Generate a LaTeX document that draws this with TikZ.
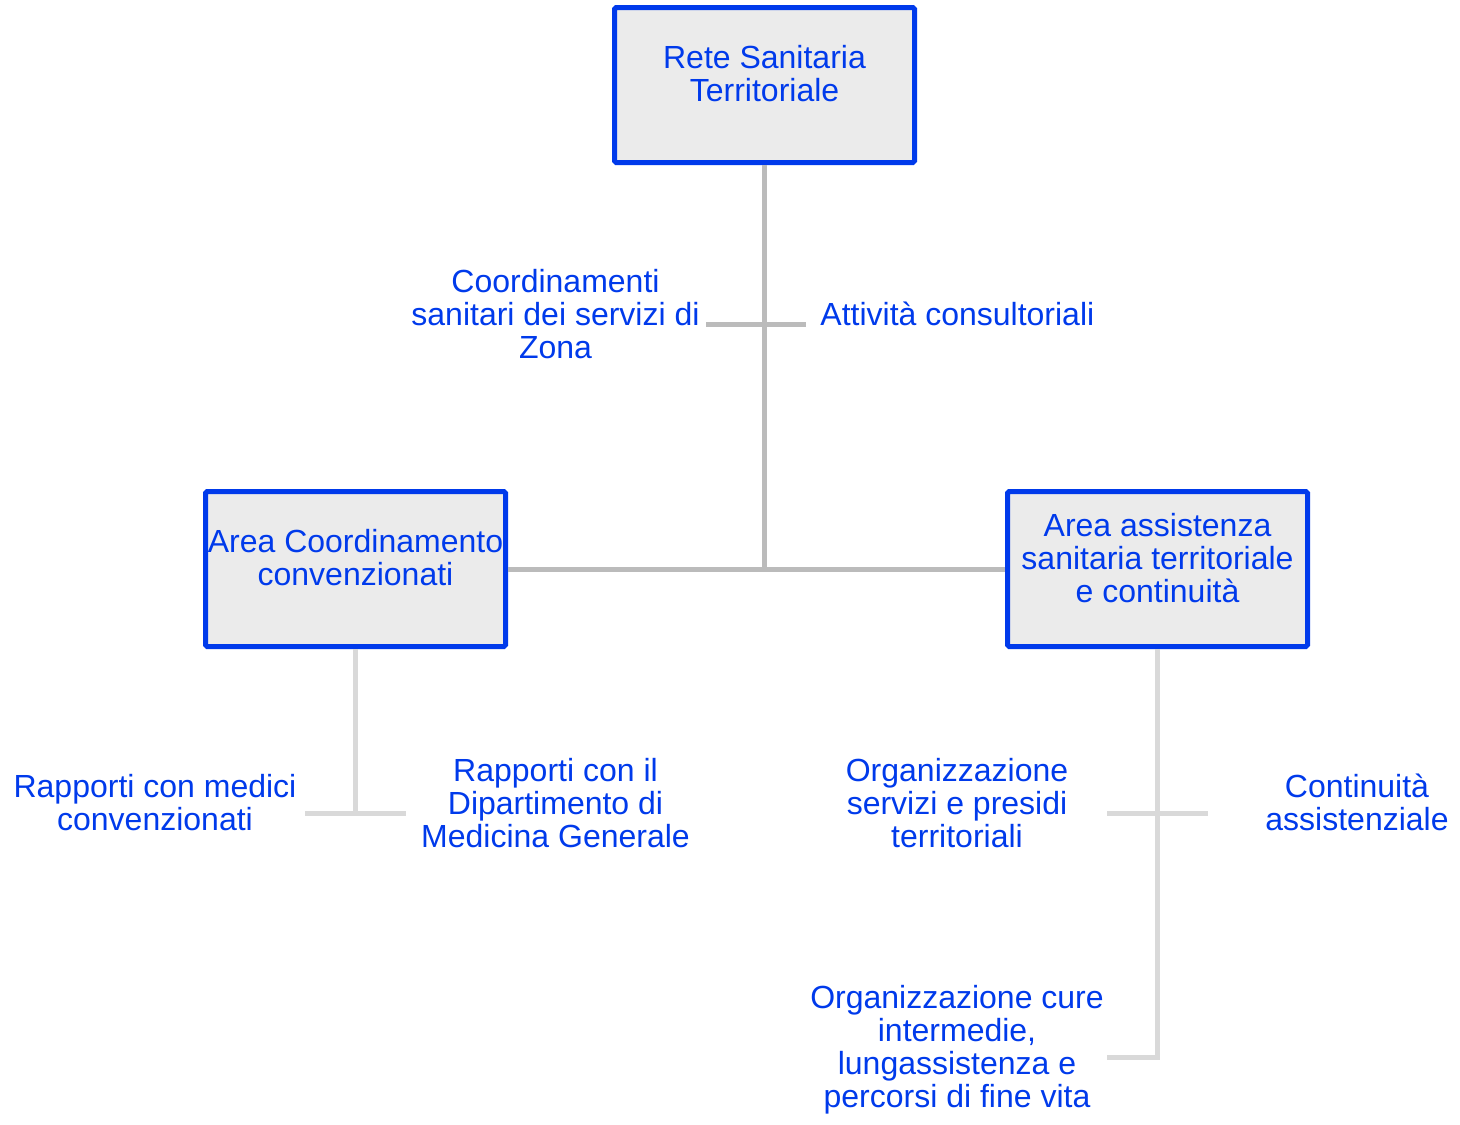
\documentclass[tikz,border=0pt]{standalone}
\usepackage{fontspec}
\setmainfont{Liberation Sans}
\definecolor{orgblue}{RGB}{0,58,235}
\definecolor{boxfill}{RGB}{235,235,235}
\definecolor{trunkgray}{RGB}{187,187,187}
\definecolor{leafgray}{RGB}{217,217,217}
\begin{document}
\begin{tikzpicture}[x=0.5pt,y=-0.5pt,
  orgbox/.style={draw=orgblue,fill=boxfill,line width=2.5pt,rounded corners=0.8pt,
    minimum width=150pt,minimum height=77.5pt,inner sep=0pt},
  boxtext/.style={text=orgblue,align=center,inner sep=0pt,
    font=\fontsize{16pt}{16.5pt}\selectfont},
  leaftext/.style={boxtext},
  trunk/.style={draw=trunkgray,line width=2.5pt},
  leaf/.style={draw=leafgray,line width=2.5pt}]
  \useasboundingbox (0,0) rectangle (1460,1124);

  % boxes
  \node[orgbox] (rst) at (764.5,85) {};
  \node[boxtext] at ([yshift=5.5pt]rst.center) {Rete Sanitaria\\Territoriale};
  \node[orgbox] (aco) at (355.5,569) {};
  \node[boxtext] at ([yshift=5.5pt]aco.center) {Area Coordinamento\\convenzionati};
  \node[orgbox] (aas) at (1157.5,569) {};
  \node[boxtext] at ([yshift=5.5pt]aas.center) {Area assistenza\\sanitaria territoriale\\e continuità};

  % junction points
  \coordinate (hub) at (764.5,569);
  \coordinate (b1l) at (706,324);
  \coordinate (b1r) at (806,324);
  \coordinate (b2) at (355.5,813);
  \coordinate (b2l) at (305,813);
  \coordinate (b2r) at (406,813);
  \coordinate (b3l) at (1107,813);
  \coordinate (b3r) at (1208,813);
  \coordinate (b4) at (1157.5,1057);
  \coordinate (b4l) at (1107,1057);

  % top level connectors
  \draw[trunk] (rst.south) -- (hub);
  \draw[trunk] (aco.east) -- (aas.west);
  \draw[trunk] (b1l) -- (b1r);

  % lower level connectors
  \draw[leaf] (aco.south) -- (b2);
  \draw[leaf] (b2l) -- (b2r);
  \draw[leaf] (aas.south) -- (b4) -- (b4l);
  \draw[leaf] (b3l) -- (b3r);

  % leaf labels
  \node[leaftext] (l1) at (555.5,314) {Coordinamenti\\sanitari dei servizi di\\Zona};
  \node[leaftext,anchor=west] (l2) at (820,314) {Attività consultoriali};
  \node[leaftext] (l3) at (155,802.5) {Rapporti con medici\\convenzionati};
  \node[leaftext] (l4) at (555.5,803) {Rapporti con il\\Dipartimento di\\Medicina Generale};
  \node[leaftext] (l5) at (957,803) {Organizzazione\\servizi e presidi\\territoriali};
  \node[leaftext] (l6) at (1357,802.5) {Continuità\\assistenziale};
  \node[leaftext] (l7) at (957,1050) {Organizzazione cure\\intermedie,\\lungassistenza e\\percorsi di fine vita};
\end{tikzpicture}
\end{document}
